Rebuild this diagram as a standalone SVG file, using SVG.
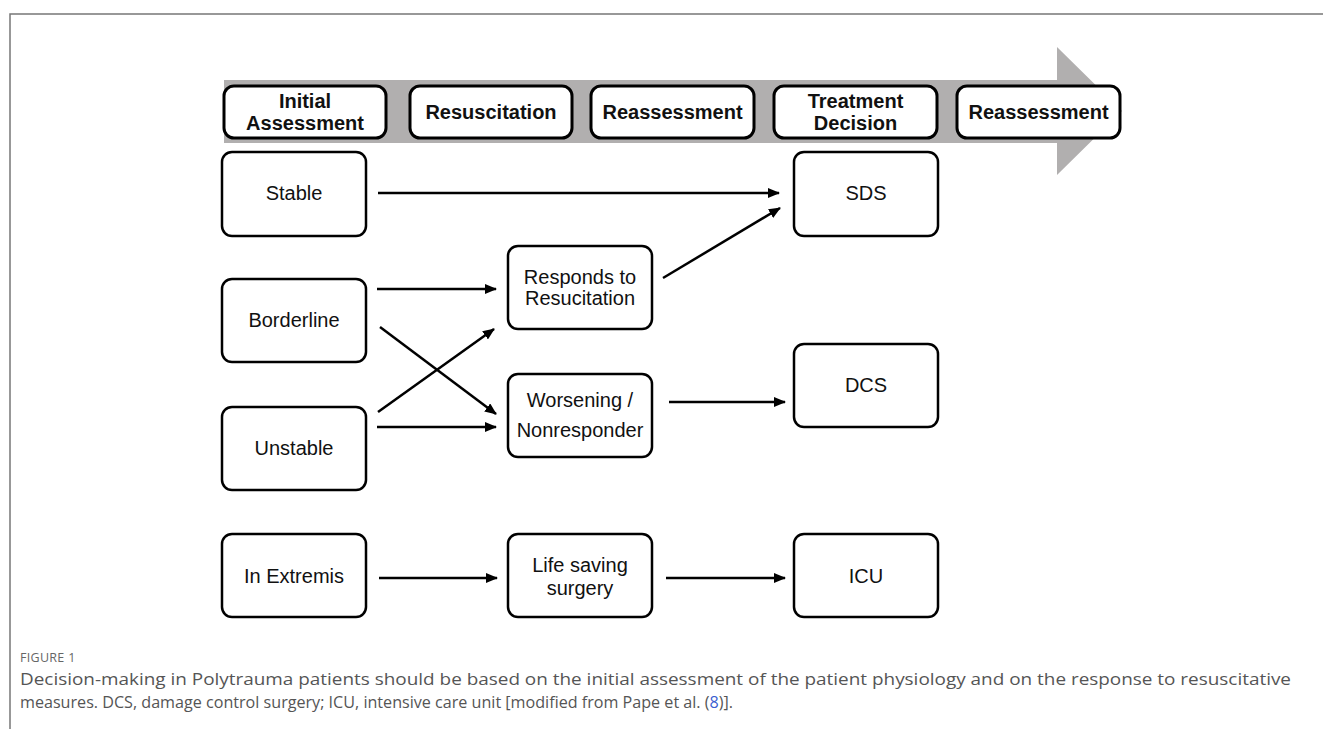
<svg xmlns="http://www.w3.org/2000/svg" width="1323" height="729" viewBox="0 0 1323 729">
<style>
.hdr rect{fill:#fff;stroke:#000;stroke-width:3}
.hdr text{font-family:"Liberation Sans",Arial,sans-serif;font-weight:bold;font-size:20px;fill:#111;text-anchor:middle}
.node rect{fill:#fff;stroke:#000;stroke-width:2.5}
.node text{font-family:"Liberation Sans",Arial,sans-serif;font-size:20px;fill:#111;text-anchor:middle}
.conn line{stroke:#000;stroke-width:2.5;marker-end:url(#ah)}
.cap{font-family:"Open Sans","Noto Sans",sans-serif;fill:#555}
</style>
<defs>
<marker id="ah" markerUnits="userSpaceOnUse" markerWidth="12" markerHeight="10" refX="11" refY="5" orient="auto">
<path d="M0,0 L12,5 L0,10 Z" fill="#000"/>
</marker>
</defs>
<rect width="1323" height="729" fill="#fff"/>
<path d="M1323,14 H10 V729" fill="none" stroke="#777" stroke-width="1.5"/>
<polygon id="timeline" points="224,80 1057,80 1057,47 1122,111 1057,175 1057,143 224,143" fill="#b1afaf"/>
<g id="h-initial" class="hdr"><rect x="224" y="86" width="162" height="52" rx="10"/><text x="305" y="108">Initial</text><text x="305" y="130">Assessment</text></g>
<g id="h-resus" class="hdr"><rect x="410" y="86" width="162" height="52" rx="10"/><text x="491" y="119">Resuscitation</text></g>
<g id="h-reass1" class="hdr"><rect x="591" y="86" width="163" height="52" rx="10"/><text x="672.5" y="119">Reassessment</text></g>
<g id="h-treat" class="hdr"><rect x="774" y="86" width="163" height="52" rx="10"/><text x="855.5" y="108">Treatment</text><text x="855.5" y="130">Decision</text></g>
<g id="h-reass2" class="hdr"><rect x="957" y="86" width="163" height="52" rx="10"/><text x="1038.5" y="119">Reassessment</text></g>
<g id="stable" class="node"><rect x="222" y="152" width="144" height="84" rx="10"/><text x="294" y="200">Stable</text></g>
<g id="borderline" class="node"><rect x="222" y="279" width="144" height="83" rx="10"/><text x="294" y="327">Borderline</text></g>
<g id="unstable" class="node"><rect x="222" y="407" width="144" height="83" rx="10"/><text x="294" y="455">Unstable</text></g>
<g id="extremis" class="node"><rect x="222" y="534" width="144" height="83" rx="10"/><text x="294" y="583">In Extremis</text></g>
<g id="responds" class="node"><rect x="508" y="246" width="144" height="83" rx="10"/><text x="580" y="284">Responds to</text><text x="580" y="305">Resucitation</text></g>
<g id="worsening" class="node"><rect x="508" y="374" width="144" height="83" rx="10"/><text x="580" y="407">Worsening /</text><text x="580" y="437">Nonresponder</text></g>
<g id="lifesaving" class="node"><rect x="508" y="534" width="144" height="83" rx="10"/><text x="580" y="572">Life saving</text><text x="580" y="595">surgery</text></g>
<g id="sds" class="node"><rect x="794" y="152" width="144" height="84" rx="10"/><text x="866" y="200">SDS</text></g>
<g id="dcs" class="node"><rect x="794" y="344" width="144" height="83" rx="10"/><text x="866" y="392">DCS</text></g>
<g id="icu" class="node"><rect x="794" y="534" width="144" height="83" rx="10"/><text x="866" y="583">ICU</text></g>
<g id="connectors" class="conn">
<line x1="378" y1="193" x2="779" y2="193"/>
<line x1="663" y1="278" x2="780" y2="208"/>
<line x1="377" y1="289" x2="496" y2="289"/>
<line x1="380" y1="327" x2="496" y2="414"/>
<line x1="378" y1="412" x2="494" y2="329"/>
<line x1="377" y1="427" x2="496" y2="427"/>
<line x1="669" y1="402" x2="785" y2="402"/>
<line x1="379" y1="578" x2="497" y2="578"/>
<line x1="666" y1="578" x2="785" y2="578"/>
</g>
<text class="cap" x="20" y="662" font-size="12.5" style="fill:#666" letter-spacing="0.3">FIGURE 1</text>
<text class="cap" x="20" y="685" font-size="16" textLength="1271" lengthAdjust="spacingAndGlyphs">Decision-making in Polytrauma patients should be based on the initial assessment of the patient physiology and on the response to resuscitative</text>
<text class="cap" x="20" y="708" font-size="16" textLength="713" lengthAdjust="spacingAndGlyphs">measures. DCS, damage control surgery; ICU, intensive care unit [modified from Pape et al. (<tspan style="fill:#3b5fd0">8</tspan>)].</text>
</svg>
